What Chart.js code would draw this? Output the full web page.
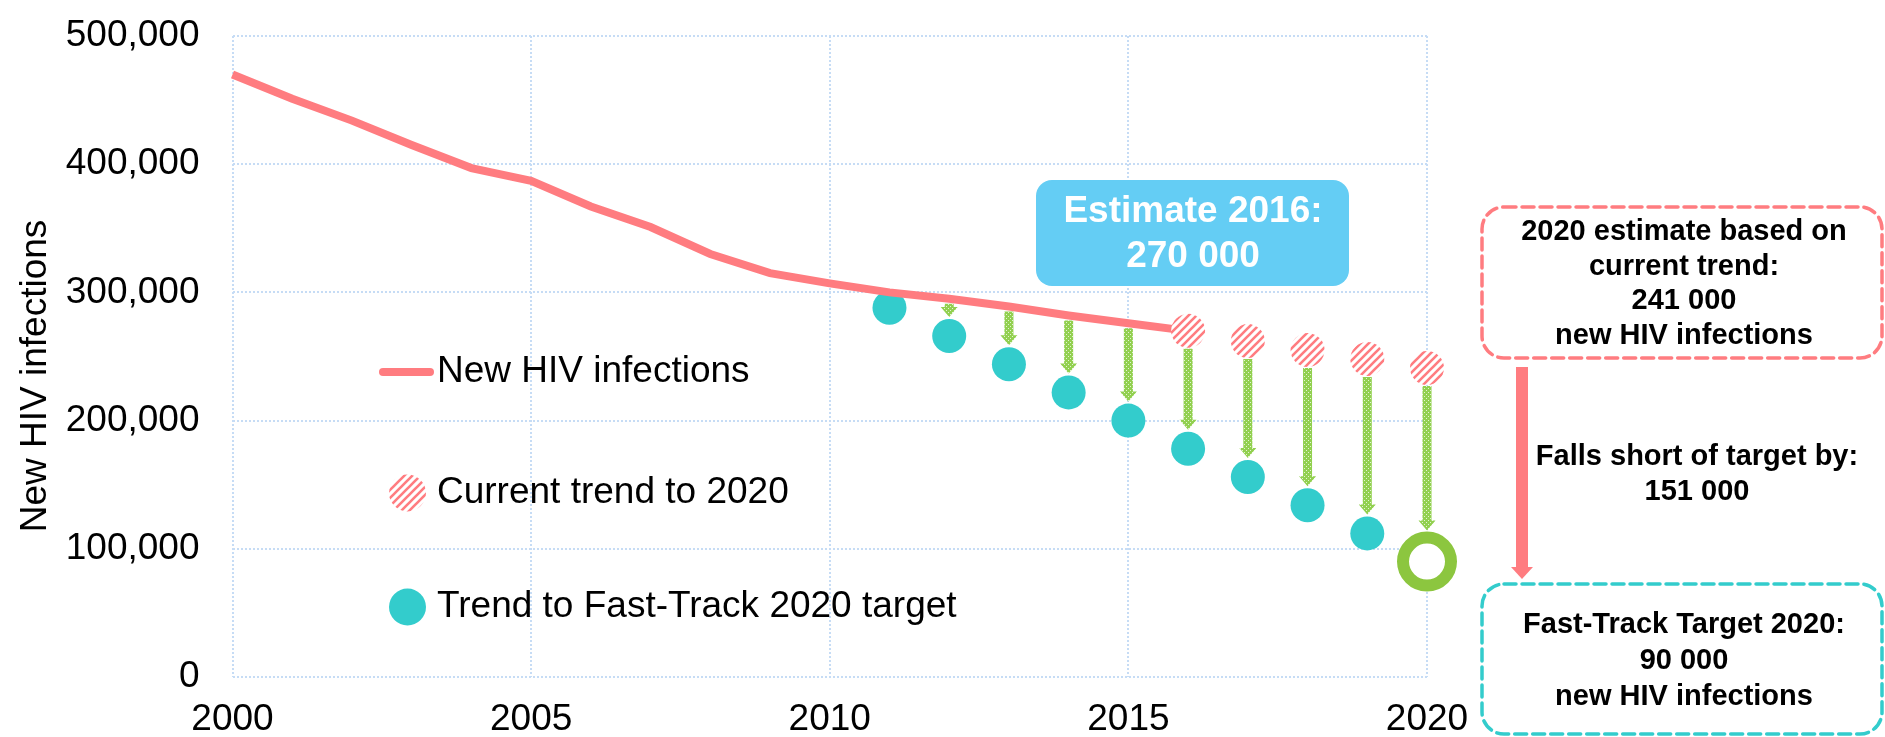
<!DOCTYPE html>
<html>
<head>
<meta charset="utf-8">
<script src="https://cdn.jsdelivr.net/npm/chart.js@4.4.1/dist/chart.umd.min.js"></script>
<style>
  html, body { margin: 0; padding: 0; background: #fff; }
</style>
</head>
<body>
<canvas id="hivChart" width="1885" height="737"></canvas>
<script>
// values
const years = [2000, 2001, 2002, 2003, 2004, 2005, 2006, 2007, 2008, 2009, 2010, 2011, 2012, 2013, 2014, 2015, 2016];
const newInfections = [470000, 451000, 434000, 415000, 397000, 387000, 367000, 351000, 330000, 315000, 307000, 300000, 295000, 289000, 282000, 276000, 270000];
const trendYears = [2016, 2017, 2018, 2019, 2020];
const currentTrend = [270000, 262000, 255000, 248000, 241000];
const fastTrackYears = [2011, 2012, 2013, 2014, 2015, 2016, 2017, 2018, 2019];
const fastTrack = [288000, 266000, 244000, 222000, 200000, 178000, 156000, 134000, 112000];
const targetYears = [2020];
const target = [90000];
const xTicks = [2000, 2005, 2010, 2015, 2020];
const yTicks = [0, 100000, 200000, 300000, 400000, 500000];
const seriesNames = ['New HIV infections', 'Current trend to 2020', 'Trend to Fast-Track 2020 target'];

const PINK = '#FF7C80';
const TEAL = '#33CCCC';
const GREEN = '#8CC63F';
const FONT = '"Liberation Sans", Arial, sans-serif';

Chart.defaults.font.family = FONT;
Chart.defaults.color = '#000';

function makeHatch() {
  const c = document.createElement('canvas');
  c.width = 8; c.height = 8;
  const g = c.getContext('2d');
  g.fillStyle = '#fff';
  g.fillRect(0, 0, 8, 8);
  g.strokeStyle = PINK;
  g.lineWidth = 2.6;
  g.beginPath();
  g.moveTo(-2, 10); g.lineTo(10, -2);
  g.moveTo(-2, 2); g.lineTo(2, -2);
  g.moveTo(6, 10); g.lineTo(10, 6);
  g.stroke();
  return g.createPattern(c, 'repeat');
}

function makeDots() {
  const c = document.createElement('canvas');
  c.width = 4; c.height = 4;
  const g = c.getContext('2d');
  g.fillStyle = '#92D050';
  g.fillRect(0, 0, 4, 4);
  g.fillStyle = 'rgba(255,255,255,0.75)';
  g.fillRect(0, 0, 1, 1);
  g.fillRect(2, 2, 1, 1);
  return g.createPattern(c, 'repeat');
}

const hatch = makeHatch();
const dots = makeDots();

const pts = (xs, ys) => xs.map((x, i) => ({ x: x, y: ys[i] }));

const overlay = {
  id: 'overlay',
  beforeDatasetsDraw(chart) {
    // green arrows: from current trend down to the Fast-Track trend
    const ctx = chart.ctx, xs = chart.scales.x, ys = chart.scales.y;
    const ends = pts(fastTrackYears, fastTrack).concat(pts(targetYears, target));
    ctx.save();
    ctx.fillStyle = dots;
    ends.forEach(p => {
      if (p.x < 2012) return;
      let from, off;
      const t = trendYears.indexOf(p.x);
      if (t >= 0) { from = currentTrend[t]; off = 18; }
      else { from = newInfections[years.indexOf(p.x)]; off = 5; }
      const x = xs.getPixelForValue(p.x);
      const y0 = ys.getPixelForValue(from) + off;
      const y1 = ys.getPixelForValue(p.y) - (targetYears.includes(p.x) ? 31 : 19);
      const head = 10;
      ctx.beginPath();
      ctx.moveTo(x - 4.5, y0);
      ctx.lineTo(x + 4.5, y0);
      ctx.lineTo(x + 4.5, y1 - head);
      ctx.lineTo(x + 8.5, y1 - head);
      ctx.lineTo(x, y1);
      ctx.lineTo(x - 8.5, y1 - head);
      ctx.lineTo(x - 4.5, y1 - head);
      ctx.closePath();
      ctx.fill();
    });
    ctx.restore();
  },
  afterDraw(chart) {
    const ctx = chart.ctx;
    ctx.save();

    // y axis title
    ctx.font = '37px ' + FONT;
    ctx.fillStyle = '#000';
    ctx.textAlign = 'center';
    ctx.textBaseline = 'middle';
    ctx.translate(36, 376);
    ctx.rotate(-Math.PI / 2);
    ctx.fillText('New HIV infections', 0, 0);
    ctx.setTransform(1, 0, 0, 1, 0, 0);

    // legend inside the plot
    ctx.strokeStyle = PINK;
    ctx.lineWidth = 8;
    ctx.lineCap = 'round';
    ctx.beginPath();
    ctx.moveTo(383, 372);
    ctx.lineTo(430, 372);
    ctx.stroke();
    ctx.fillStyle = hatch;
    ctx.beginPath(); ctx.arc(407.5, 493, 18.5, 0, Math.PI * 2); ctx.fill();
    ctx.fillStyle = TEAL;
    ctx.beginPath(); ctx.arc(407.5, 607, 18.5, 0, Math.PI * 2); ctx.fill();
    ctx.fillStyle = '#000';
    ctx.textAlign = 'left';
    ctx.font = '37px ' + FONT;
    ctx.fillText(seriesNames[0], 437, 372);
    ctx.fillText(seriesNames[1], 437, 493);
    ctx.fillText(seriesNames[2], 437, 607);

    // Estimate 2016 callout
    ctx.fillStyle = '#64CDF4';
    ctx.beginPath();
    ctx.roundRect(1036, 180, 313, 106, 16);
    ctx.fill();
    ctx.fillStyle = '#fff';
    ctx.textAlign = 'center';
    ctx.font = 'bold 37px ' + FONT;
    ctx.fillText('Estimate 2016:', 1193, 212);
    ctx.fillText('270 000', 1193, 257);

    // right-hand annotations
    ctx.lineWidth = 3.5;
    ctx.setLineDash([12, 6]);
    ctx.strokeStyle = PINK;
    ctx.beginPath();
    ctx.roundRect(1482, 207, 400, 151, 22);
    ctx.stroke();
    ctx.strokeStyle = TEAL;
    ctx.beginPath();
    ctx.roundRect(1482, 584, 400, 150, 22);
    ctx.stroke();
    ctx.setLineDash([]);

    ctx.fillStyle = PINK;
    ctx.fillRect(1516, 367, 12, 201);
    ctx.beginPath();
    ctx.moveTo(1511, 567); ctx.lineTo(1533, 567); ctx.lineTo(1522, 579);
    ctx.closePath();
    ctx.fill();

    ctx.fillStyle = '#000';
    ctx.font = 'bold 29px ' + FONT;
    ctx.fillText('2020 estimate based on', 1684, 232);
    ctx.fillText('current trend:', 1684, 267);
    ctx.fillText('241 000', 1684, 301);
    ctx.fillText('new HIV infections', 1684, 336);
    ctx.fillText('Falls short of target by:', 1697, 457);
    ctx.fillText('151 000', 1697, 492);
    ctx.fillText('Fast-Track Target 2020:', 1684, 625);
    ctx.fillText('90 000', 1684, 661);
    ctx.fillText('new HIV infections', 1684, 697);
    ctx.restore();
  }
};

new Chart(document.getElementById('hivChart'), {
  type: 'line',
  data: {
    datasets: [
      {
        label: seriesNames[1],
        type: 'scatter',
        data: pts(trendYears, currentTrend),
        pointRadius: 17,
        pointBackgroundColor: hatch,
        pointBorderWidth: 0,
        clip: false,
        order: 0
      },
      {
        label: 'Target',
        type: 'scatter',
        data: pts(targetYears, target),
        pointRadius: 24,
        pointBackgroundColor: '#fff',
        pointBorderColor: GREEN,
        pointBorderWidth: 12,
        clip: false,
        order: 1
      },
      {
        label: seriesNames[0],
        data: pts(years, newInfections),
        borderColor: PINK,
        borderWidth: 8,
        pointRadius: 0,
        tension: 0,
        fill: false,
        clip: false,
        order: 2
      },
      {
        label: seriesNames[2],
        type: 'scatter',
        data: pts(fastTrackYears, fastTrack),
        pointRadius: 17,
        pointBackgroundColor: TEAL,
        pointBorderWidth: 0,
        clip: false,
        order: 3
      }
    ]
  },
  options: {
    responsive: false,
    animation: false,
    layout: { padding: { left: 0, right: 458, top: 29, bottom: 0 } },
    plugins: { legend: { display: false }, tooltip: { enabled: false } },
    scales: {
      x: {
        type: 'linear',
        min: 2000,
        max: 2020,
        afterBuildTicks: s => { s.ticks = xTicks.map(v => ({ value: v })); },
        afterFit: s => { s.height = 60; s.paddingLeft = 0; s.paddingRight = 0; },
        ticks: { font: { size: 37 }, padding: 21, maxRotation: 0, callback: v => String(v) },
        grid: { color: '#C6DCF5', lineWidth: 2, drawTicks: false },
        border: { display: false, dash: [2, 2] }
      },
      y: {
        min: 0,
        max: 500000,
        afterBuildTicks: s => { s.ticks = yTicks.map(v => ({ value: v })); },
        afterFit: s => { s.width = 232.5; s.paddingTop = 0; s.paddingBottom = 0; },
        ticks: { font: { size: 37 }, padding: 33, callback: v => v.toLocaleString('en-US') },
        grid: { color: '#C6DCF5', lineWidth: 2, drawTicks: false },
        border: { display: false, dash: [2, 2] }
      }
    }
  },
  plugins: [overlay]
});
</script>
</body>
</html>
